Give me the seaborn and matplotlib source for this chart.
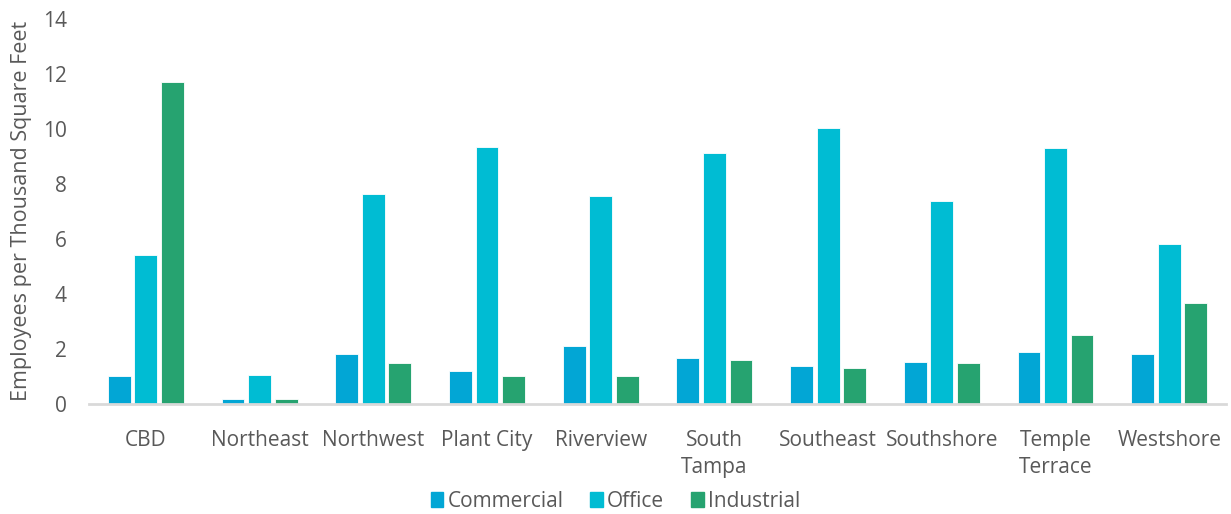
import matplotlib
matplotlib.use("Agg")
import matplotlib.pyplot as plt
import seaborn as sns
import pandas as pd

# Employment density by submarket and property type
submarkets = ["CBD", "Northeast", "Northwest", "Plant City", "Riverview",
              "South\nTampa", "Southeast", "Southshore", "Temple\nTerrace", "Westshore"]
commercial = [1.0, 0.18, 1.82, 1.20, 2.10, 1.67, 1.39, 1.52, 1.90, 1.81]
office = [5.4, 1.05, 7.62, 9.34, 7.57, 9.11, 10.04, 7.39, 9.28, 5.81]
industrial = [11.7, 0.18, 1.49, 1.01, 1.01, 1.58, 1.30, 1.49, 2.50, 3.66]
series_names = ["Commercial", "Office", "Industrial"]
y_ticks = [0, 2, 4, 6, 8, 10, 12, 14]

colors = ["#02A6D5", "#00BCD3", "#26A370"]
text_color = "#595959"

df = pd.DataFrame({
    "Submarket": submarkets * 3,
    "Type": [series_names[0]] * len(submarkets)
            + [series_names[1]] * len(submarkets)
            + [series_names[2]] * len(submarkets),
    "Value": commercial + office + industrial,
})

sns.set_theme(style="white")
plt.rcParams["font.family"] = ["Open Sans", "DejaVu Sans"]

fig = plt.figure(figsize=(12.31, 5.14), dpi=100)
ax = fig.add_axes([0.0723, 0.214, 0.9237, 0.750])

sns.barplot(data=df, x="Submarket", y="Value", hue="Type",
            hue_order=series_names, palette=colors, width=0.70, gap=0.14,
            edgecolor="white", linewidth=0.6, saturation=1, ax=ax,
            errorbar=None)

ax.set_ylim(0, 14)
ax.set_xlim(-0.5, len(submarkets) - 0.5)
ax.set_yticks(y_ticks)
ax.set_yticklabels([str(t) for t in y_ticks], fontsize=15, color=text_color)
ax.tick_params(axis="x", labelsize=15, colors=text_color, length=0, pad=19)
ax.tick_params(axis="y", length=0, pad=16)
for lbl in ax.get_xticklabels():
    lbl.set_color(text_color)
    lbl.set_linespacing(1.35)
ax.set_xlabel("")
ax.set_ylabel("Employees per Thousand Square Feet", fontsize=15.5,
              color=text_color, labelpad=8)

for side in ["top", "right", "left"]:
    ax.spines[side].set_visible(False)
ax.spines["bottom"].set_color("#D9D9D9")
ax.spines["bottom"].set_linewidth(2)

ax.legend_.remove()
handles = [plt.Rectangle((0, 0), 1, 1, color=c) for c in colors]
fig.legend(handles, series_names, loc="lower center", ncol=3, frameon=False,
           bbox_to_anchor=(0.5, -0.032), fontsize=15, handlelength=0.6,
           handleheight=0.75, handletextpad=0.2, columnspacing=1.3,
           labelcolor=text_color)

fig.savefig("out.png", dpi=100, facecolor="white")
